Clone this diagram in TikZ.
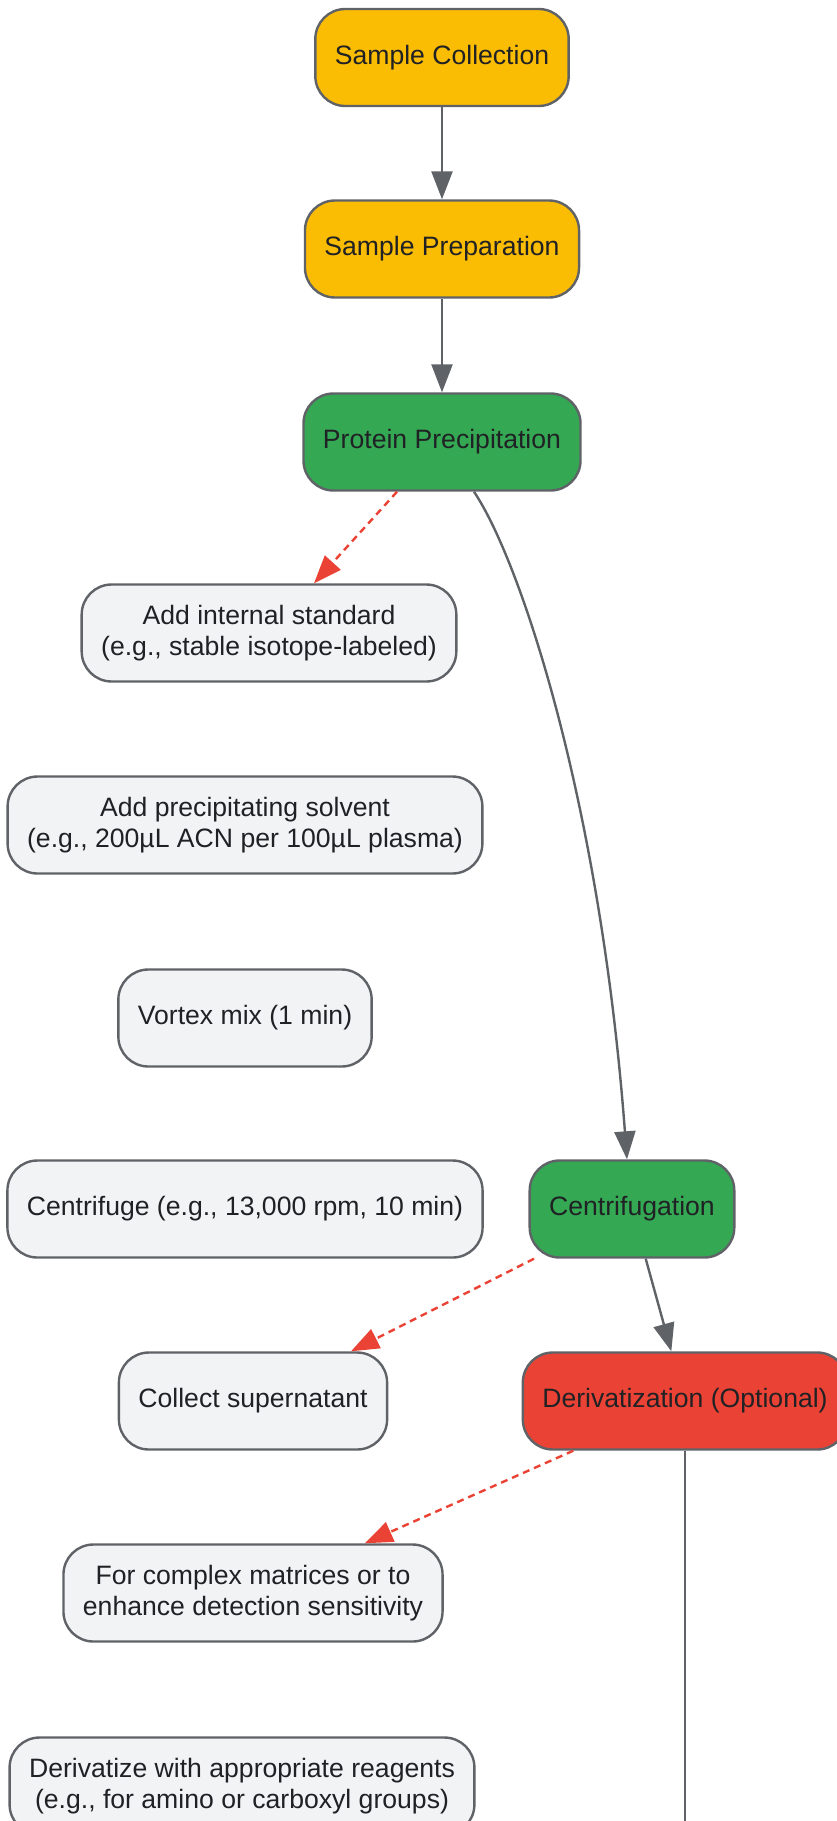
\documentclass[tikz,border=0pt]{standalone}
\usepackage{fontspec}
\setmainfont{Liberation Sans}
\usetikzlibrary{arrows.meta}
\definecolor{stepyellow}{HTML}{FBBC04}
\definecolor{stepgreen}{HTML}{34A853}
\definecolor{stepred}{HTML}{EA4335}
\definecolor{steplight}{HTML}{F1F3F4}
\definecolor{stepline}{HTML}{5F6368}
\definecolor{steptext}{HTML}{202124}
\begin{document}
\begin{tikzpicture}[x=1pt,y=-1pt,
    box/.style={draw=stepline, line width=2.4pt, rounded corners=30pt,
      minimum height=97pt, inner xsep=19.5pt, align=center,
      text=steptext, font=\fontsize{26.6}{31.5}\selectfont},
    flow/.style={draw=stepline, line width=2.4pt,
      -{Triangle[length=28pt,width=21pt]}},
    side/.style={draw=stepred, line width=2.4pt, dash pattern=on 7pt off 5pt,
      -{Triangle[length=28pt,width=21pt,fill=stepred]}}]
    \useasboundingbox (0,0) rectangle (837,1821);
    \clip (0,0) rectangle (837,1821);
    \node[box, fill=stepyellow] (SC) at (442,57.5) {Sample Collection};
    \node[box, fill=stepyellow] (SP) at (442,249) {Sample Preparation};
    \node[box, fill=stepgreen] (PP) at (442,442) {Protein Precipitation};
    \node[box, fill=steplight] (AIS) at (269,633) {Add internal standard\\(e.g., stable isotope-labeled)};
    \node[box, fill=steplight] (APS) at (245,825) {Add precipitating solvent\\(e.g., 200µL ACN per 100µL plasma)};
    \node[box, fill=steplight] (VM) at (245,1018) {Vortex mix (1 min)};
    \node[box, fill=steplight] (CF) at (245,1209) {Centrifuge (e.g., 13,000 rpm, 10 min)};
    \node[box, fill=stepgreen] (CG) at (632,1209) {Centrifugation};
    \node[box, fill=steplight] (CS) at (253,1401) {Collect supernatant};
    \node[box, fill=stepred] (DV) at (685,1401) {Derivatization (Optional)};
    \node[box, fill=steplight] (FCM) at (253,1593) {For complex matrices or to\\enhance detection sensitivity};
    \node[box, fill=steplight] (DR) at (242,1786) {Derivatize with appropriate reagents\\(e.g., for amino or carboxyl groups)};
    \coordinate (DVout) at (685,1840);
    \draw[flow] (SC) -- (SP);
    \draw[flow] (SP) -- (PP);
    \draw[side] (PP) -- (AIS);
    \draw[flow] ([xshift=32pt]PP.south) .. controls (520,560) and (600,800) .. ([xshift=-5pt]CG.north);
    \draw[side] (CG) -- (CS);
    \draw[flow] (CG) -- (DV);
    \draw[side] (DV) -- (FCM);
    \draw[draw=stepline, line width=2.4pt] (DV) -- (DVout);
\end{tikzpicture}
\end{document}
